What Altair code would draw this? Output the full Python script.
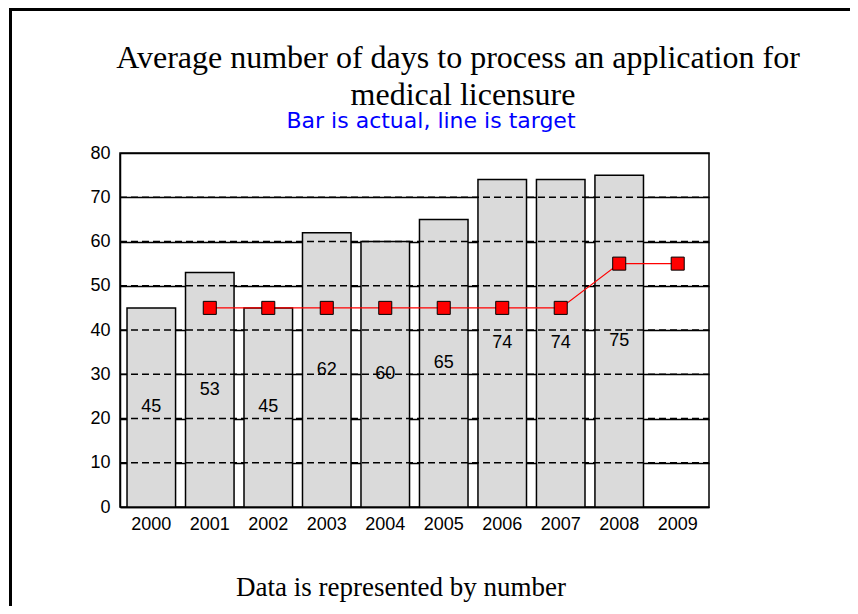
import altair as alt
import pandas as pd

years = ["2000", "2001", "2002", "2003", "2004", "2005", "2006", "2007", "2008", "2009"]
actual = [45, 53, 45, 62, 60, 65, 74, 74, 75, None]
target = [None, 45, 45, 45, 45, 45, 45, 45, 55, 55]
grid_ticks = [10, 20, 30, 40, 50, 60, 70]

title_line1 = "Average number of days to process an application for"
title_line2 = "medical licensure"
subtitle = "Bar is actual, line is target"
footer = "Data is represented by number"

df = pd.DataFrame({"year": years, "actual": actual, "target": target})
grid_df = pd.DataFrame({"v": grid_ticks})
one = pd.DataFrame({"a": [0]})

W, H = 589, 354
LABEL_FONT = "Liberation Sans"
LABEL_SIZE = 18

xenc = alt.X("year:N", sort=years,
             scale=alt.Scale(paddingInner=0.17, paddingOuter=0.12),
             axis=alt.Axis(title=None, labelAngle=0, ticks=False, labelPadding=8,
                           labelFont=LABEL_FONT, labelFontSize=LABEL_SIZE, labelColor="black",
                           domainColor="black", domainWidth=1.5, grid=False))
yscale = alt.Scale(domain=[0, 80])
yaxis = alt.Axis(title=None, values=[0, 10, 20, 30, 40, 50, 60, 70, 80], ticks=False,
                 labelPadding=10, labelFont=LABEL_FONT, labelFontSize=LABEL_SIZE, labelColor="black",
                 domainColor="black", domainWidth=1.5, grid=True, gridColor="black",
                 gridWidth=1.5, gridOpacity=1)

base = alt.Chart(df)

bars = base.transform_filter("datum.actual != null").mark_bar(
    fill="#dadada", stroke="black", strokeWidth=1.5
).encode(x=xenc, y=alt.Y("actual:Q", scale=yscale, axis=yaxis))

dashes = alt.Chart(grid_df).mark_rule(color="black", strokeWidth=1.3, strokeDash=[7, 4]).encode(
    y=alt.Y("v:Q", scale=yscale), x=alt.value(0), x2=alt.value(W)
)

labels = base.transform_filter("datum.actual != null").transform_calculate(
    mid="datum.actual / 2"
).mark_text(font=LABEL_FONT, fontSize=LABEL_SIZE, color="black", baseline="middle").encode(
    x=alt.X("year:N", sort=years), y=alt.Y("mid:Q", scale=yscale), text="actual:Q"
)

line = base.transform_filter("datum.target != null").mark_line(color="red", strokeWidth=1.2).encode(
    x=alt.X("year:N", sort=years), y=alt.Y("target:Q", scale=yscale)
)
points = base.transform_filter("datum.target != null").mark_point(
    shape="square", filled=True, fill="red", stroke="black", strokeWidth=1, size=170, opacity=1
).encode(x=alt.X("year:N", sort=years), y=alt.Y("target:Q", scale=yscale))

def txt(text, x, y, font, size, color):
    return alt.Chart(one).mark_text(text=text, font=font, fontSize=size, color=color,
                                    align="center", baseline="alphabetic").encode(
        x=alt.value(x), y=alt.value(y))

t1 = txt(title_line1, 338, -85, "Liberation Serif", 32, "black")
t2 = txt(title_line2, 343, -48, "Liberation Serif", 32, "black")
t3 = txt(subtitle, 311, -25, "DejaVu Sans", 22, "#0000ff")
t4 = txt(footer, 281, 443, "Liberation Serif", 27, "black")

frame_left = alt.Chart(one).mark_rule(color="black", strokeWidth=3).encode(
    x=alt.value(-109.5), y=alt.value(-144), y2=alt.value(453))
frame_top = alt.Chart(one).mark_rule(color="black", strokeWidth=3).encode(
    y=alt.value(-143.5), x=alt.value(-111), x2=alt.value(730))

chart = alt.layer(bars, dashes, labels, line, points, t1, t2, t3, t4, frame_left, frame_top).properties(
    width=W, height=H,
    autosize=alt.AutoSizeParams(type="none"),
    padding={"left": 112, "top": 145, "right": 141, "bottom": 99},
    background="white",
).configure_view(stroke="black", strokeWidth=1.5)

chart.save("out.html", embed_options={"renderer": "svg", "actions": False})
